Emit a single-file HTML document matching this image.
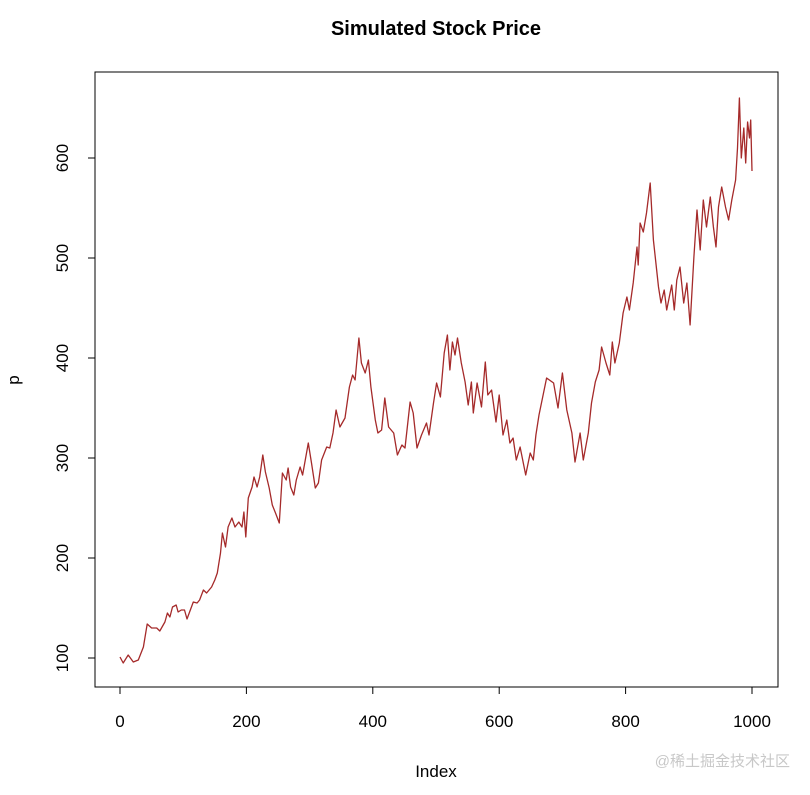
<!DOCTYPE html>
<html><head><meta charset="utf-8"><style>
body{margin:0;background:#fff;}
svg text{font-family:"Liberation Sans",Arial,sans-serif;}
</style></head><body>
<svg width="810" height="790" xmlns="http://www.w3.org/2000/svg">
<text x="436" y="35" text-anchor="middle" font-size="20" font-weight="bold">Simulated Stock Price</text>
<rect x="95" y="72" width="683" height="615" fill="none" stroke="#000" stroke-width="1"/>
<g id="xaxis"></g>
<g id="yaxis"></g>
<text x="436" y="777" text-anchor="middle" font-size="17">Index</text>
<text x="0" y="0" transform="translate(19,380) rotate(-90)" text-anchor="middle" font-size="17">p</text>
<path id="line" fill="none" stroke="#a52a2a" stroke-width="1.3" stroke-linejoin="round"/>
<text x="790" y="766" text-anchor="end" font-size="15" fill="#c8c8c8" font-family="'Liberation Sans','Noto Sans CJK SC',sans-serif">@稀土掘金技术社区</text>
</svg>
<script>
const xTicks=[0,200,400,600,800,1000];
const yTicks=[100,200,300,400,500,600];
const idx=[0,5,13,21,29,37,43,50,58,63,71,75,79,83,89,92,97,102,106,116,122,126,132,137,145,150,154,159,162,167,171,177,182,188,193,196,199,203,209,212,217,221,226,230,236,241,246,252,257,263,266,270,275,279,
285,289,298,303,309,314,319,327,332,337,342,348,356,363,368,372,378,382,388,393,397,404,408,414,419,425,433,439,446,451,459,464,470,477,485,489,496,501,507,513,518,522,526,530,534,540,546,551,556,559,565,572,578,582,588,595,600,606,612,617,622,627,633,642,649,654,658,663,
675,686,693,700,707,715,720,728,733,741,746,752,758,762,769,775,779,783,790,796,802,806,812,818,820,823,828,833,839,844,852,856,861,865,873,877,881,886,892,897,902,908,913,918,923,928,934,939,943,947,952,958,963,968,974,977,980,983,987,990,993,996,998,1000];
const vals=[101,95,103,96,98,111,134,130,130,127,136,145,141,151,153,146,148,148,139,156,155,158,168,165,171,178,185,205,225,211,231,240,231,236,231,246,221,260,271,281,271,281,303,286,270,253,245,235,285,278,290,271,263,278,
291,283,315,295,270,275,298,311,310,325,348,331,340,371,383,378,420,395,385,398,371,338,325,328,360,331,325,303,313,310,356,345,310,323,335,323,355,375,361,405,423,388,416,403,420,395,376,353,376,345,375,351,396,363,368,336,363,323,338,315,320,298,311,283,305,298,323,343,
380,375,350,385,348,325,296,325,298,325,355,376,388,411,395,383,416,395,415,445,461,448,475,511,493,535,526,545,575,518,471,455,468,448,473,448,478,491,455,475,433,501,548,508,558,531,561,531,511,551,571,551,538,558,578,610,660,600,630,595,636,620,638,587];
const X=v=>120+v*0.632, Y=v=>758-v;
const NS="http://www.w3.org/2000/svg";
const xa=document.getElementById('xaxis'), ya=document.getElementById('yaxis');
function mk(t,a){const e=document.createElementNS(NS,t);for(const k in a)e.setAttribute(k,a[k]);return e;}
let l=mk('line',{x1:X(xTicks[0]),x2:X(xTicks[xTicks.length-1]),y1:687,y2:687,stroke:'#000'});


xa.appendChild(l);
xTicks.forEach(t=>{
 const tk=mk('line',{x1:X(t),x2:X(t),y1:687,y2:694,stroke:'#000'});
 
 
 xa.appendChild(tk);
 const tx=mk('text',{x:X(t),y:727,'text-anchor':'middle','font-size':17});tx.textContent=t;
 
 
 xa.appendChild(tx);
});
l=mk('line',{x1:95,x2:95,y1:Y(yTicks[0]),y2:Y(yTicks[yTicks.length-1]),stroke:'#000'});


ya.appendChild(l);
yTicks.forEach(t=>{
 const tk=mk('line',{x1:88,x2:95,y1:Y(t),y2:Y(t),stroke:'#000'});
 
 
 ya.appendChild(tk);
 const tx=mk('text',{transform:`translate(68,${Y(t)}) rotate(-90)`,'text-anchor':'middle','font-size':17});tx.textContent=t;
 
 
 ya.appendChild(tx);
});
document.getElementById('line').setAttribute('d',idx.map((v,i)=>(i?'L':'M')+X(v).toFixed(1)+','+Y(vals[i]).toFixed(1)).join(''));
</script>
</body></html>
